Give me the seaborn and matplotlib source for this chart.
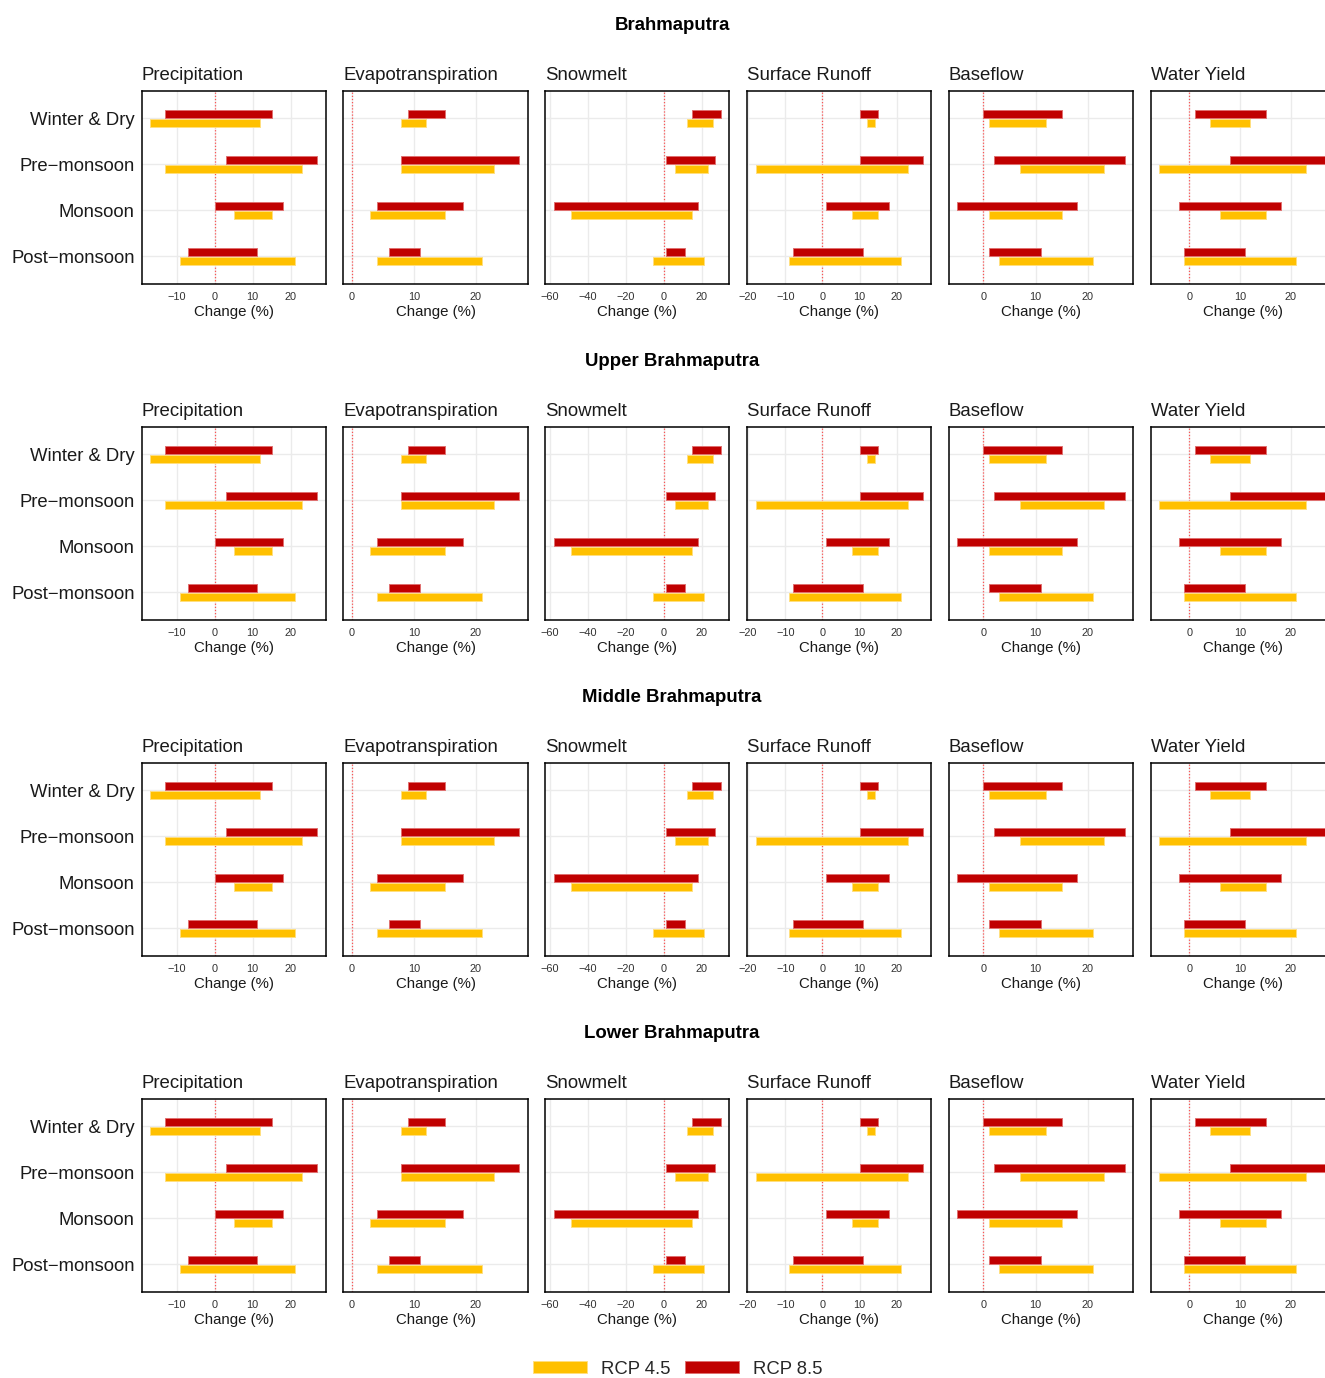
import numpy as np
import pandas as pd
import matplotlib
matplotlib.use("Agg")
import matplotlib.pyplot as plt
from matplotlib.patches import Patch
import seaborn as sns

# ---------------- data ----------------
regions = ["Brahmaputra", "Upper Brahmaputra", "Middle Brahmaputra", "Lower Brahmaputra"]
seasons = ["Winter & Dry", "Pre\u2212monsoon", "Monsoon", "Post\u2212monsoon"]
variables = ["Precipitation", "Evapotranspiration", "Snowmelt", "Surface Runoff", "Baseflow", "Water Yield"]

# ranges (min, max) of change (%) per season, per variable
precip_rcp45_lo = [-17, -13, 5, -9]
precip_rcp45_hi = [12, 23, 15, 21]
precip_rcp85_lo = [-13, 3, 0, -7]
precip_rcp85_hi = [15, 27, 18, 11]

et_rcp45_lo = [8, 8, 3, 4]
et_rcp45_hi = [12, 23, 15, 21]
et_rcp85_lo = [9, 8, 4, 6]
et_rcp85_hi = [15, 27, 18, 11]

snow_rcp45_lo = [12, 6, -49, -6]
snow_rcp45_hi = [26, 23, 15, 21]
snow_rcp85_lo = [15, 1, -58, 1]
snow_rcp85_hi = [30, 27, 18, 11]

surq_rcp45_lo = [12, -18, 8, -9]
surq_rcp45_hi = [14, 23, 15, 21]
surq_rcp85_lo = [10, 10, 1, -8]
surq_rcp85_hi = [15, 27, 18, 11]

base_rcp45_lo = [1, 7, 1, 3]
base_rcp45_hi = [12, 23, 15, 21]
base_rcp85_lo = [0, 2, -5, 1]
base_rcp85_hi = [15, 27, 18, 11]

wyld_rcp45_lo = [4, -6, 6, -1]
wyld_rcp45_hi = [12, 23, 15, 21]
wyld_rcp85_lo = [1, 8, -2, -1]
wyld_rcp85_hi = [15, 27, 18, 11]

x_ticks = {
    "Precipitation": [-10, 0, 10, 20],
    "Evapotranspiration": [0, 10, 20],
    "Snowmelt": [-60, -40, -20, 0, 20],
    "Surface Runoff": [-20, -10, 0, 10, 20],
    "Baseflow": [0, 10, 20],
    "Water Yield": [0, 10, 20],
}

scenarios = ["RCP 4.5", "RCP 8.5"]
scenario_colors = {"RCP 4.5": "#FFC000", "RCP 8.5": "#C00000"}
edge_colors = {"RCP 4.5": "#FFDF80", "RCP 8.5": "#E07070"}

raw = {
    "Precipitation": (precip_rcp45_lo, precip_rcp45_hi, precip_rcp85_lo, precip_rcp85_hi),
    "Evapotranspiration": (et_rcp45_lo, et_rcp45_hi, et_rcp85_lo, et_rcp85_hi),
    "Snowmelt": (snow_rcp45_lo, snow_rcp45_hi, snow_rcp85_lo, snow_rcp85_hi),
    "Surface Runoff": (surq_rcp45_lo, surq_rcp45_hi, surq_rcp85_lo, surq_rcp85_hi),
    "Baseflow": (base_rcp45_lo, base_rcp45_hi, base_rcp85_lo, base_rcp85_hi),
    "Water Yield": (wyld_rcp45_lo, wyld_rcp45_hi, wyld_rcp85_lo, wyld_rcp85_hi),
}

rows = []
for reg in regions:
    for var in variables:
        l45, h45, l85, h85 = raw[var]
        for i, s in enumerate(seasons):
            rows.append(dict(region=reg, variable=var, season=s, scenario="RCP 4.5", lo=l45[i], hi=h45[i]))
            rows.append(dict(region=reg, variable=var, season=s, scenario="RCP 8.5", lo=l85[i], hi=h85[i]))
df = pd.DataFrame(rows)

# ---------------- style ----------------
sns.set_theme(style="whitegrid")
plt.rcParams["font.family"] = ["Liberation Sans", "DejaVu Sans"]

W, H = 1325, 1378
fig = plt.figure(figsize=(W / 100, H / 100), dpi=100)

col_left = [141.7, 343.5, 545.3, 747.2, 948.9, 1150.7]
panel_w = 184.0
panel_h = 193.3
block_top = [90.7, 426.7, 762.7, 1098.7]
block_title_y = [25.5, 361.5, 697.5, 1033.5]

offsets = {"RCP 8.5": -0.1, "RCP 4.5": 0.1}
bar_h = 0.18

for r, reg in enumerate(regions):
    fig.text(672 / W, 1 - block_title_y[r] / H, reg, ha="center", va="center",
             fontsize=13.4, fontweight="bold", color="black")
    for c, var in enumerate(variables):
        x0 = col_left[c]
        y0 = block_top[r]
        ax = fig.add_axes([x0 / W, 1 - (y0 + panel_h) / H, panel_w / W, panel_h / H])
        sub = df[(df.region == reg) & (df.variable == var)]
        ypos = {s: i for i, s in enumerate(seasons)}
        for sc in scenarios:
            d = sub[sub.scenario == sc]
            yy = np.array([ypos[s] for s in d.season]) + offsets[sc]
            ax.barh(yy, d.hi.values - d.lo.values, left=d.lo.values, height=bar_h,
                    color=scenario_colors[sc], edgecolor=edge_colors[sc], linewidth=0.7, zorder=3)
        lo = min(sub.lo.min(), 0)
        hi = max(sub.hi.max(), 0)
        pad = 0.05 * (hi - lo)
        ax.set_xlim(lo - pad, hi + pad)
        ax.set_ylim(len(seasons) - 1 + 0.6, -0.6)
        ax.axvline(0, color="#FF3030", linestyle=(0, (1, 1.5)), linewidth=0.9, alpha=0.8, zorder=2)
        ax.set_xticks(x_ticks[var])
        ax.set_xticklabels([f"{t}".replace("-", "\u2212") for t in x_ticks[var]])
        ax.set_yticks(range(len(seasons)))
        if c == 0:
            ax.set_yticklabels(seasons)
        else:
            ax.set_yticklabels([])
        ax.grid(True, color="#EBEBEB", linewidth=1.0, zorder=0)
        ax.set_axisbelow(True)
        ax.tick_params(axis="x", length=0, pad=5.6, labelsize=7.9, labelcolor="#333333")
        ax.tick_params(axis="y", length=0, pad=5, labelsize=13.3, labelcolor="#1A1A1A")
        ax.set_xlabel("Change (%)", fontsize=10.8, color="#1A1A1A", labelpad=2.0)
        ax.set_ylabel("")
        ax.set_facecolor("white")
        for sp in ax.spines.values():
            sp.set_color("black")
            sp.set_linewidth(1.1)
            sp.set_visible(True)
        fig.text(x0 / W, 1 - (y0 - 15.5) / H, var, ha="left", va="center",
                 fontsize=13.4, color="#1A1A1A")

handles = [Patch(facecolor=scenario_colors[s], edgecolor=edge_colors[s], linewidth=0.7, label=s)
           for s in scenarios]
fig.legend(handles=handles, loc="center", bbox_to_anchor=(678 / W, 1 - 1369 / H), ncol=2,
           frameon=False, fontsize=13.3, handlelength=2.92, handleheight=0.63,
           handletextpad=0.75, columnspacing=0.8)

fig.savefig("out.png", dpi=100, facecolor="white")
